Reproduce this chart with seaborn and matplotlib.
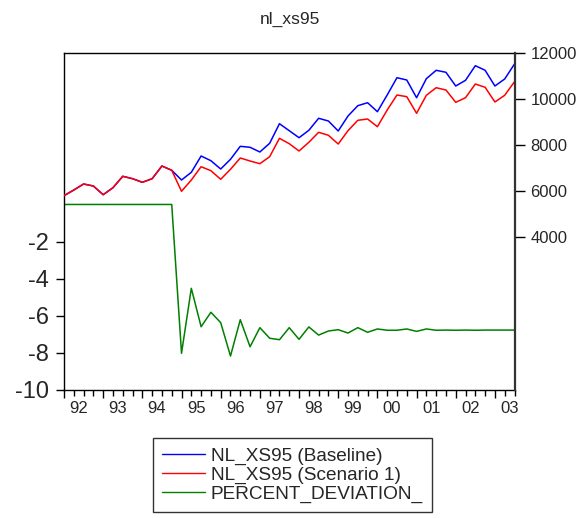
import numpy as np
import pandas as pd
import matplotlib
matplotlib.use("Agg")
import matplotlib.pyplot as plt
import seaborn as sns

# quarterly, 1992Q1 .. 2003Q3
years = ["92", "93", "94", "95", "96", "97", "98", "99", "00", "01", "02", "03"]

baseline = [5783, 6030, 6291, 6204, 5826, 6130, 6626, 6522, 6365, 6522, 7074, 6887,
            6465, 6800, 7509, 7304, 6943, 7365, 7930, 7887, 7683, 8061, 8913, 8609,
            8304, 8626, 9148, 9030, 8596, 9248, 9696, 9826, 9435, 10161, 10913, 10813,
            10043, 10870, 11235, 11148, 10552, 10800, 11435, 11235, 10552, 10857, 11509]

scenario = [5783, 6030, 6291, 6204, 5826, 6130, 6626, 6522, 6365, 6522, 7074, 6887,
            5974, 6465, 7043, 6870, 6496, 6930, 7422, 7291, 7174, 7478, 8278, 8043,
            7726, 8104, 8539, 8409, 8030, 8609, 9061, 9117, 8783, 9509, 10161, 10087,
            9365, 10148, 10478, 10378, 9843, 10043, 10639, 10496, 9857, 10148, 10739]

pct_dev = [0, 0, 0, 0, 0, 0, 0, 0, 0, 0, 0, 0,
           -8.02, -4.52, -6.59, -5.81, -6.37, -8.17, -6.21, -7.67, -6.64, -7.21, -7.29, -6.64,
           -7.27, -6.60, -7.04, -6.82, -6.75, -6.93, -6.64, -6.89, -6.71, -6.78, -6.78, -6.71,
           -6.84, -6.71, -6.78, -6.77, -6.78, -6.77, -6.78, -6.77, -6.77, -6.77, -6.77]

sns.set_theme(style="ticks")
plt.rcParams['font.family'] = ['Liberation Sans', 'DejaVu Sans']
plt.rcParams['axes.unicode_minus'] = False

n = len(baseline)
df = pd.DataFrame({"t": np.arange(n), "base": baseline, "scen": scenario, "dev": pct_dev})

fig = plt.figure(figsize=(5.8, 5.18), dpi=100)
ax = fig.add_axes([64 / 580, 1 - 390 / 518, (514.5 - 64) / 580, (390 - 52.7) / 518])
ax2 = ax.twinx()

sns.lineplot(data=df, x="t", y="dev", ax=ax, color="#008000", lw=1.1, label="PERCENT_DEVIATION_")
sns.lineplot(data=df, x="t", y="base", ax=ax2, color="#0000ff", lw=1.1, label="NL_XS95 (Baseline)")
sns.lineplot(data=df, x="t", y="scen", ax=ax2, color="#ff0000", lw=1.1, label="NL_XS95 (Scenario 1)")

h1, l1 = ax.get_legend_handles_labels()
h2, l2 = ax2.get_legend_handles_labels()
ax.legend_.remove()
ax2.legend_.remove()

ax.set_xlabel("")
ax.set_ylabel("")
ax2.set_ylabel("")

# left scale (percent deviation)
ax.set_xlim(0, n - 1)
ax.set_ylim(-10, 8.18)
ax.set_yticks([-10, -8, -6, -4, -2])
ax.tick_params(axis="y", labelsize=17, length=6, width=1, color="black", pad=5, left=True)

# right scale (levels)
ax2.set_ylim(-2665, 12000)
ax2.set_yticks([4000, 6000, 8000, 10000, 12000])
ax2.tick_params(axis="y", labelsize=12, length=7, width=1, color="black", pad=4.5, right=True)

# year ticks + quarter ticks, labels centred in each year
ax.set_xticks(np.arange(0, n, 4))
ax.set_xticklabels([])
ax.set_xticks(np.arange(n), minor=True)
ax.tick_params(axis="x", which="major", length=6, width=1, color="black", bottom=True)
ax.tick_params(axis="x", which="minor", length=4, width=1, color="black", bottom=True)

sec = ax.secondary_xaxis("bottom")
sec.set_xticks(np.arange(len(years)) * 4 + 1.5, years)
sec.tick_params(length=0, labelsize=12, pad=8)
sec.spines["bottom"].set_visible(False)

for s in ["left", "top", "bottom"]:
    ax.spines[s].set_color("black")
    ax.spines[s].set_linewidth(1)
ax.spines["right"].set_visible(False)
for s in ["left", "top", "bottom"]:
    ax2.spines[s].set_visible(False)
ax2.spines["right"].set_color("#333333")
ax2.spines["right"].set_linewidth(1.6)

fig.suptitle("nl_xs95", x=0.5, y=1 - 19 / 518, va="center", fontsize=12.5)

leg = fig.legend(h2 + h1, l2 + l1, loc="upper left",
                 bbox_to_anchor=(152.7 / 580, 1 - 437.7 / 518), bbox_transform=fig.transFigure,
                 frameon=True, fancybox=False, edgecolor="black", fontsize=13.7,
                 handlelength=2.25, handletextpad=0.3, borderpad=0.5,
                 labelspacing=0.08, borderaxespad=0)
leg.get_frame().set_linewidth(1)
for line in leg.get_lines():
    line.set_linewidth(1)

fig.savefig("out.png", dpi=100)
